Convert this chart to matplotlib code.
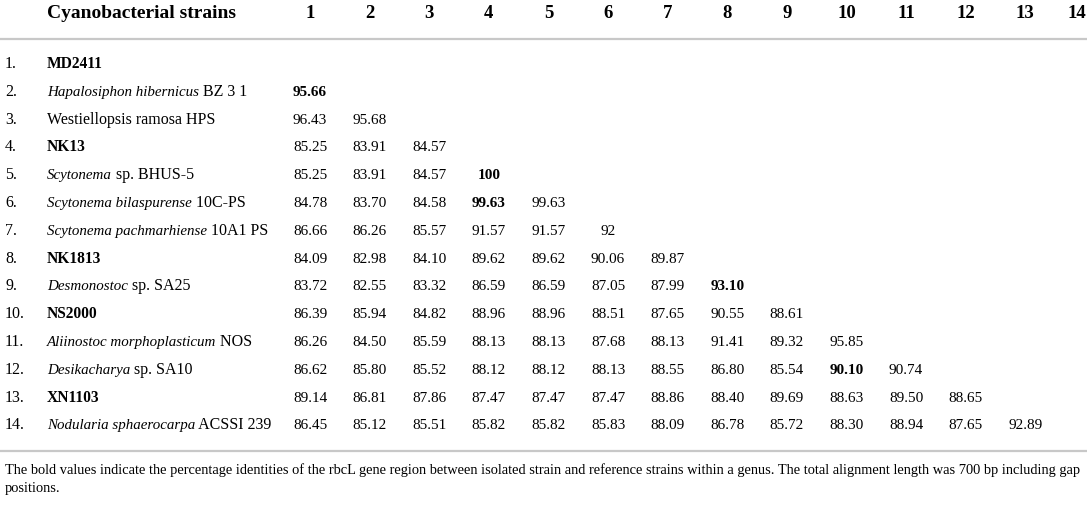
import matplotlib
matplotlib.use("Agg")
import matplotlib.pyplot as plt

# strain names: italic part + roman part, bold for isolates
italic_part = ["", "Hapalosiphon hibernicus", "", "", "Scytonema", "Scytonema bilaspurense",
               "Scytonema pachmarhiense", "", "Desmonostoc", "", "Aliinostoc morphoplasticum",
               "Desikacharya", "", "Nodularia sphaerocarpa"]
roman_part = ["MD2411", " BZ 3 1", "Westiellopsis ramosa HPS", "NK13", " sp. BHUS-5", " 10C-PS",
              " 10A1 PS", "NK1813", " sp. SA25", "NS2000", " NOS", " sp. SA10", "XN1103",
              " ACSSI 239"]
isolate = [True, False, False, True, False, False, False, True, False, True, False, False, True, False]

# lower triangle of percentage identities (row i has i values)
identity = [
    [],
    ["95.66"],
    ["96.43", "95.68"],
    ["85.25", "83.91", "84.57"],
    ["85.25", "83.91", "84.57", "100"],
    ["84.78", "83.70", "84.58", "99.63", "99.63"],
    ["86.66", "86.26", "85.57", "91.57", "91.57", "92"],
    ["84.09", "82.98", "84.10", "89.62", "89.62", "90.06", "89.87"],
    ["83.72", "82.55", "83.32", "86.59", "86.59", "87.05", "87.99", "93.10"],
    ["86.39", "85.94", "84.82", "88.96", "88.96", "88.51", "87.65", "90.55", "88.61"],
    ["86.26", "84.50", "85.59", "88.13", "88.13", "87.68", "88.13", "91.41", "89.32", "95.85"],
    ["86.62", "85.80", "85.52", "88.12", "88.12", "88.13", "88.55", "86.80", "85.54", "90.10", "90.74"],
    ["89.14", "86.81", "87.86", "87.47", "87.47", "87.47", "88.86", "88.40", "89.69", "88.63", "89.50", "88.65"],
    ["86.45", "85.12", "85.51", "85.82", "85.82", "85.83", "88.09", "86.78", "85.72", "88.30", "88.94", "87.65", "92.89"],
]
bold_cells = [(1, 0), (4, 3), (5, 3), (8, 7), (11, 9)]

footnote = ("The bold values indicate the percentage identities of the rbcL gene region between isolated strain "
            "and reference strains within a genus. The total alignment length was 700 bp including gap\npositions.")

FONT = "Liberation Serif"
W, H = 1089, 508
fig = plt.figure(figsize=(W / 100, H / 100), dpi=100)
ax = fig.add_axes([0, 0, 1, 1])
ax.set_xlim(0, W)
ax.set_ylim(H, 0)
ax.axis("off")

n = len(roman_part)
col_x = [310 + 59.6 * j for j in range(n)]
col_x[-1] = 1077
row_base = [68 + 27.8 * i for i in range(n)]   # text baselines
header_y = 14

# header
ax.text(47, header_y, "Cyanobacterial strains", fontsize=14, fontweight="bold", family=FONT,
        ha="left", va="center")
for j in range(n):
    ax.text(col_x[j], header_y, str(j + 1), fontsize=13.5, fontweight="bold", family=FONT,
            ha="center", va="center")

ax.plot([0, 1087], [39, 39], color="#c8c8c8", lw=1.6, solid_capstyle="butt")
ax.plot([0, 1087], [451, 451], color="#c8c8c8", lw=1.6, solid_capstyle="butt")

renderer = fig.canvas.get_renderer()
inv = ax.transData.inverted()

for i in range(n):
    y = row_base[i]
    ax.text(5, y, f"{i + 1}.", fontsize=11.5, family=FONT, ha="left", va="baseline")
    x = 47
    if italic_part[i]:
        t = ax.text(x, y, italic_part[i], fontsize=10.8, family=FONT, style="italic",
                    ha="left", va="baseline")
        bb = t.get_window_extent(renderer)
        x = inv.transform((bb.x1, 0))[0]
    if isolate[i]:
        ax.text(x, y, roman_part[i], fontsize=11.2, family=FONT, fontweight="bold",
                ha="left", va="baseline")
    else:
        ax.text(x, y, roman_part[i], fontsize=11.5, family=FONT, ha="left", va="baseline")
    for j, val in enumerate(identity[i]):
        ax.text(col_x[j], y, val, fontsize=11, family=FONT,
                fontweight="bold" if (i, j) in bold_cells else "normal",
                ha="center", va="baseline")

ax.text(5, 479, footnote, fontsize=10.4, family=FONT, ha="left", va="center", linespacing=1.5)

fig.savefig("out.png", dpi=100)
